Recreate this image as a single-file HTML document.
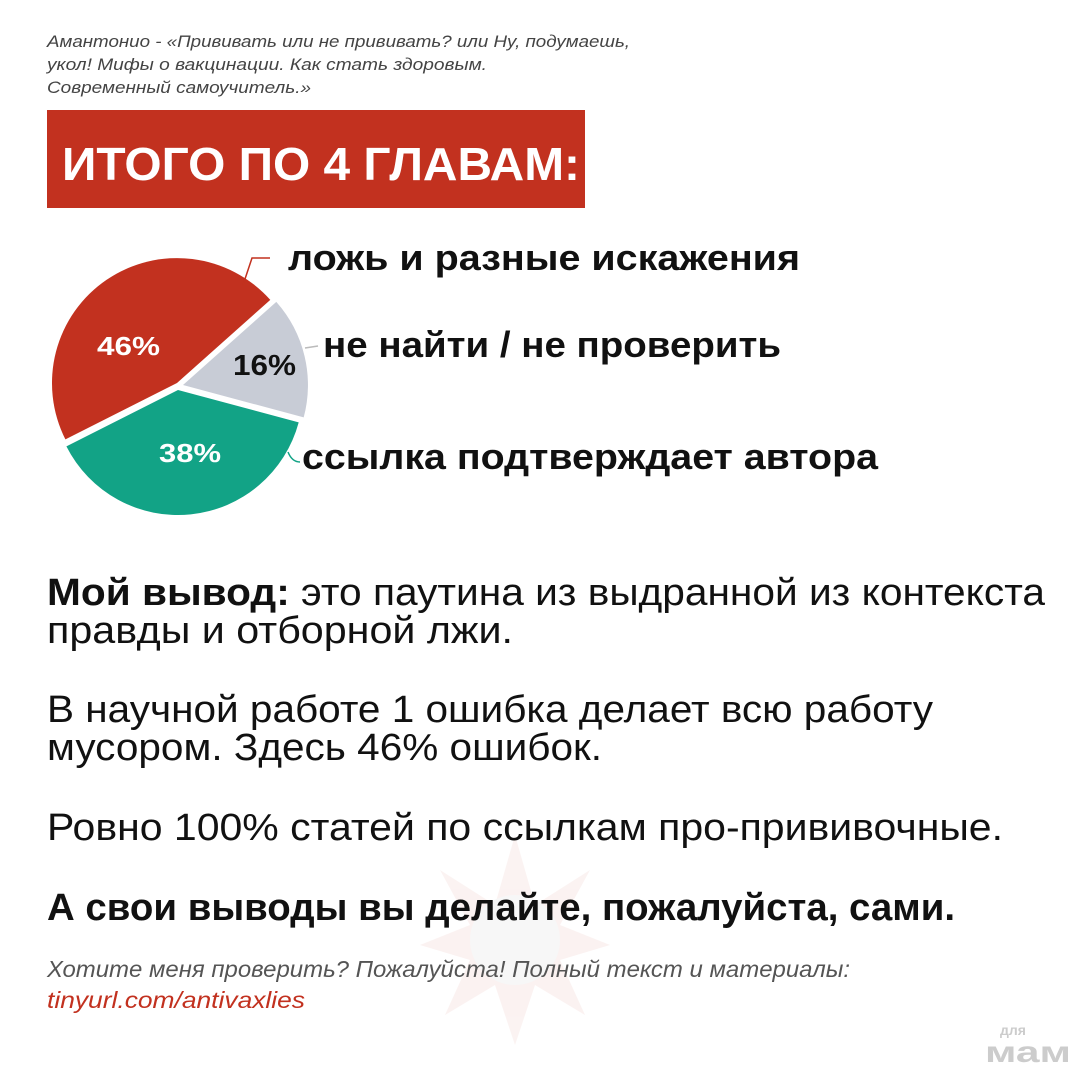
<!DOCTYPE html>
<html><head><meta charset="utf-8"><style>html,body{margin:0;padding:0;background:#fff}svg{display:block}</style></head>
<body>
<svg width="1080" height="1080" viewBox="0 0 1080 1080" xmlns="http://www.w3.org/2000/svg" font-family="'Liberation Sans','Noto Sans CJK SC',sans-serif">
<rect width="1080" height="1080" fill="#fff"/>
<!-- watermark -->
<g opacity="0.06" fill="#c2311f">
<polygon points="515,835 535,905 590,870 560,925 610,945 560,960 585,1015 535,985 515,1045 495,985 445,1015 470,960 420,945 470,925 440,870 495,905"/>
<circle cx="515" cy="940" r="45" fill="#888"/>
</g>
<g font-style="italic" fill="#444" font-size="17">
<text x="47" y="47" textLength="583" lengthAdjust="spacingAndGlyphs">Амантонио - «Прививать или не прививать? или Ну, подумаешь,</text>
<text x="47" y="70" textLength="440" lengthAdjust="spacingAndGlyphs">укол! Мифы о вакцинации. Как стать здоровым.</text>
<text x="47" y="93" textLength="264" lengthAdjust="spacingAndGlyphs">Современный самоучитель.»</text>
</g>
<rect x="47" y="110" width="538" height="98" fill="#c2311f"/>
<text x="62" y="180" fill="#fff" font-weight="bold" font-size="46" textLength="518" lengthAdjust="spacingAndGlyphs">ИТОГО ПО 4 ГЛАВАМ:</text>
<!-- pie -->
<path d="M177,383 L270.3,299.9 A125,125 0 0 0 65.4,439.4 Z" fill="#c2311f"/>
<path d="M183,385 L276.3,301.9 A125,125 0 0 1 303.7,417.4 Z" fill="#c8ccd6"/>
<path d="M178,390 L298.7,422.4 A125,125 0 0 1 66.4,446.4 Z" fill="#12a386"/>
<polyline points="243,285 252,258 270,258" fill="none" stroke="#c2311f" stroke-width="1.5"/>
<line x1="305" y1="348" x2="318" y2="346" stroke="#bbb" stroke-width="1.5"/>
<path d="M288,452 Q292,462 300,462" fill="none" stroke="#12a386" stroke-width="1.5"/>
<g font-weight="bold">
<text x="97" y="355" fill="#fff" font-size="26" textLength="63" lengthAdjust="spacingAndGlyphs">46%</text>
<text x="233" y="375" fill="#111" font-size="29" textLength="63" lengthAdjust="spacingAndGlyphs">16%</text>
<text x="159" y="462" fill="#fff" font-size="26" textLength="62" lengthAdjust="spacingAndGlyphs">38%</text>
<g font-size="36" fill="#111">
<text x="288" y="270" textLength="512" lengthAdjust="spacingAndGlyphs">ложь и разные искажения</text>
<text x="323" y="357" textLength="458" lengthAdjust="spacingAndGlyphs">не найти / не проверить</text>
<text x="302" y="469" textLength="576" lengthAdjust="spacingAndGlyphs">ссылка подтверждает автора</text>
</g>
</g>
<g font-size="38" fill="#111">
<text x="47" y="605" textLength="998" lengthAdjust="spacingAndGlyphs"><tspan font-weight="bold">Мой вывод:</tspan> это паутина из выдранной из контекста</text>
<text x="47" y="643" textLength="466" lengthAdjust="spacingAndGlyphs">правды и отборной лжи.</text>
<text x="47" y="722" textLength="886" lengthAdjust="spacingAndGlyphs">В научной работе 1 ошибка делает всю работу</text>
<text x="47" y="760" textLength="555" lengthAdjust="spacingAndGlyphs">мусором. Здесь 46% ошибок.</text>
<text x="47" y="840" textLength="956" lengthAdjust="spacingAndGlyphs">Ровно 100% статей по ссылкам про-прививочные.</text>
<text x="47" y="920" font-weight="bold" textLength="908" lengthAdjust="spacingAndGlyphs">А свои выводы вы делайте, пожалуйста, сами.</text>
</g>
<g font-style="italic" font-size="23">
<text x="47" y="977" fill="#555" textLength="803" lengthAdjust="spacingAndGlyphs">Хотите меня проверить? Пожалуйста! Полный текст и материалы:</text>
<text x="47" y="1008" fill="#c2311f" textLength="258" lengthAdjust="spacingAndGlyphs">tinyurl.com/antivaxlies</text>
</g>
<g fill="#ccc" font-weight="bold">
<text x="1000" y="1035" font-size="14">для</text>
<text x="985" y="1062" font-size="30" textLength="86" lengthAdjust="spacingAndGlyphs">мам</text>
</g>
</svg>
</body></html>
